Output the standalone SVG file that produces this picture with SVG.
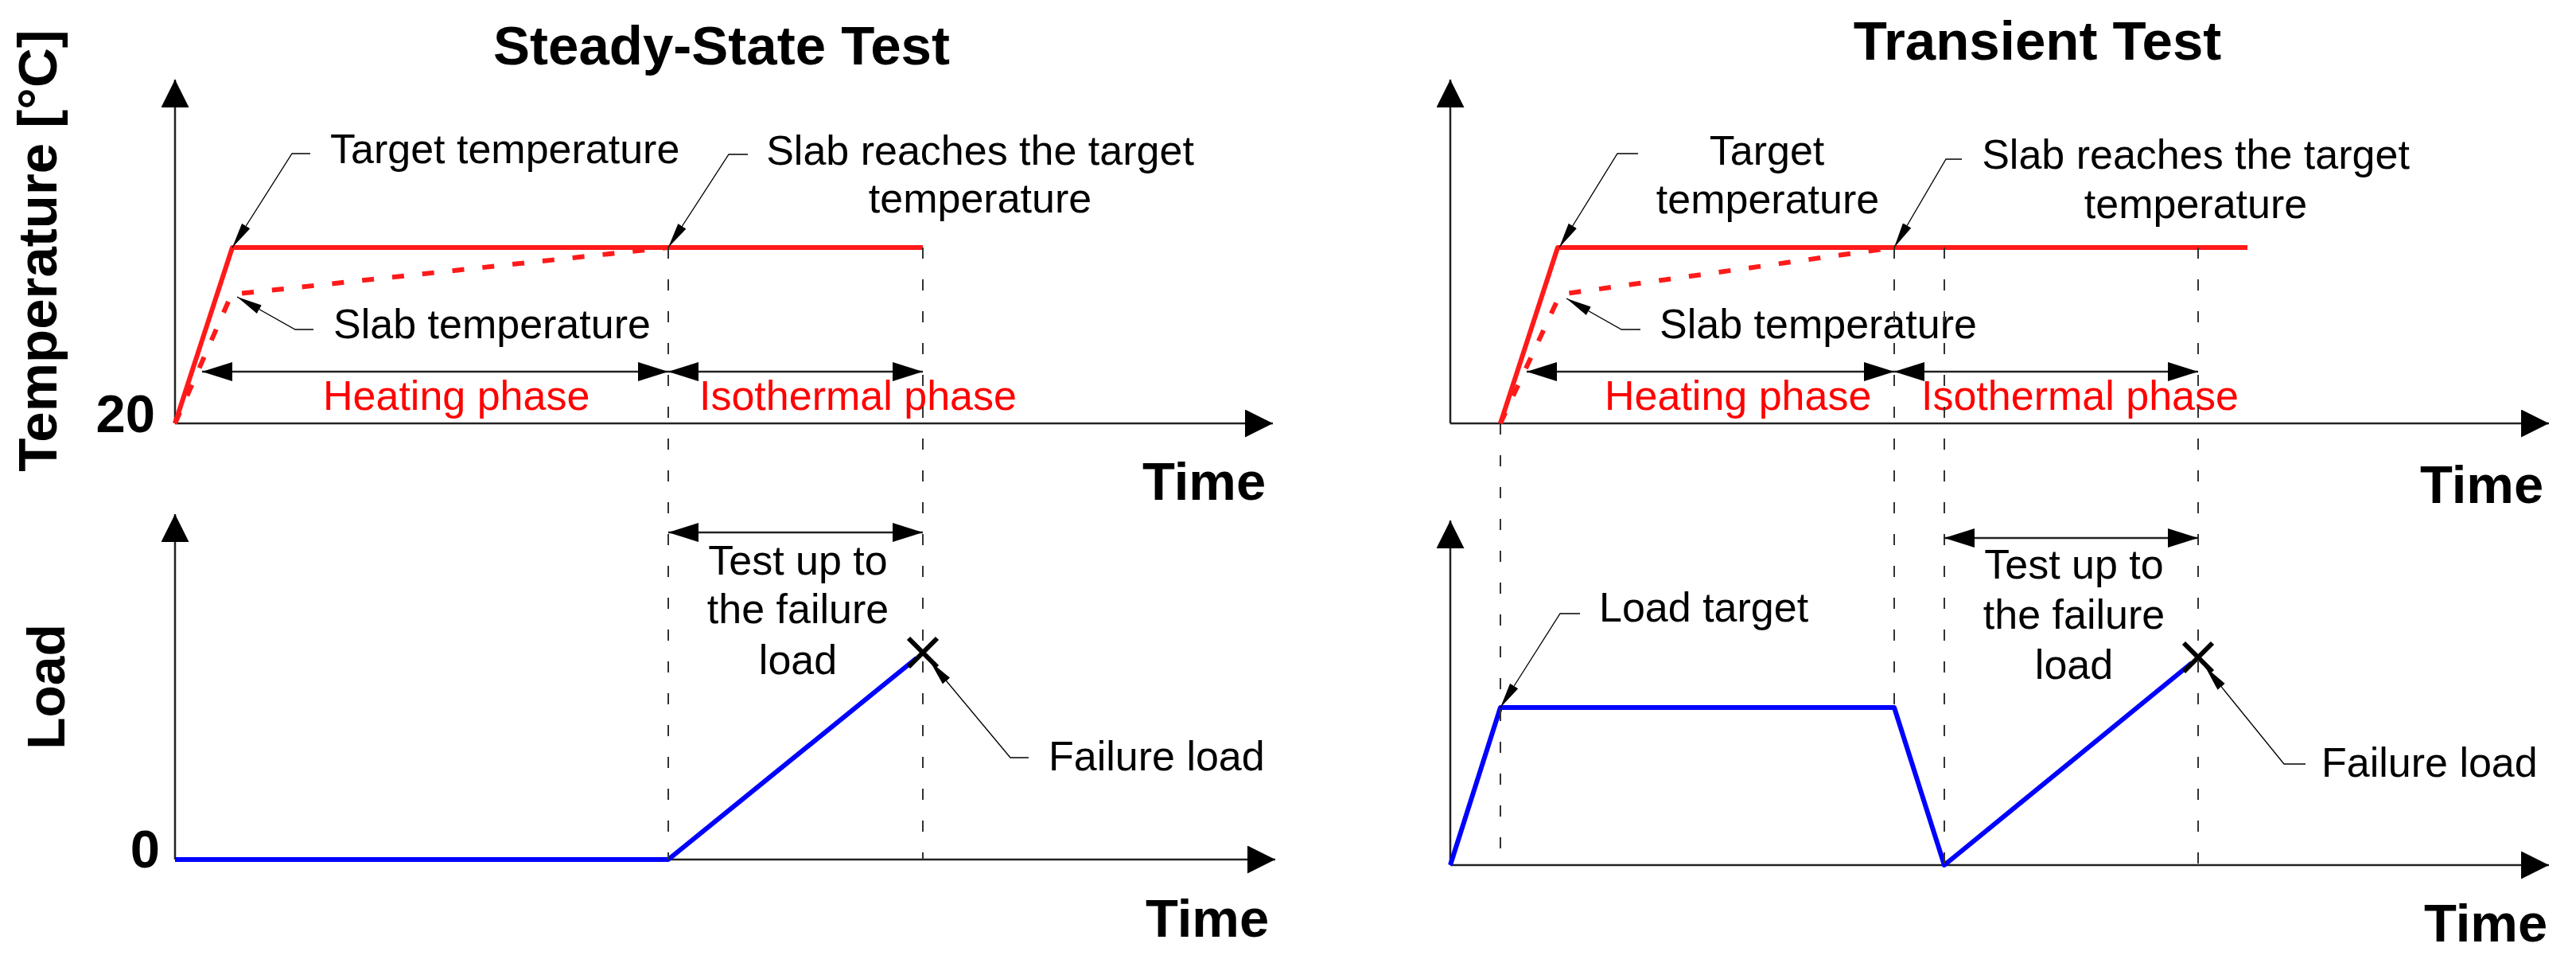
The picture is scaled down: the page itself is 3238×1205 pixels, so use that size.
<svg xmlns="http://www.w3.org/2000/svg" width="3238" height="1205" viewBox="0 0 3238 1205">
<defs>
<style>
text{font-family:"Liberation Sans",Arial,sans-serif;fill:#000}
.t{font-size:69px;font-weight:bold}
.ax{font-size:67px;font-weight:bold}
.lb{font-size:52px}
.rd{fill:#ff0000}
.m{text-anchor:middle}
.e{text-anchor:end}
.axis{stroke:#222;stroke-width:2.5;fill:none;marker-end:url(#ah)}
.dash{stroke:#333;stroke-width:2;stroke-dasharray:14 26;fill:none}
.dim{stroke:#222;stroke-width:2.5;fill:none;marker-start:url(#dh);marker-end:url(#dh)}
.lead{stroke:#000;stroke-width:1.3;fill:none;marker-end:url(#lh)}
.red{stroke:#ff1a1a;stroke-width:6;fill:none;stroke-linejoin:round}
.slab{stroke:#ff1a1a;stroke-width:6;fill:none;stroke-dasharray:15 23}
.blue{stroke:#0000ff;stroke-width:6;fill:none;stroke-linejoin:round}
.x{stroke:#000;stroke-width:6;fill:none}
</style>
<marker id="ah" markerUnits="userSpaceOnUse" markerWidth="36" markerHeight="36" refX="35" refY="17.5" orient="auto" viewBox="0 0 36 36"><path d="M0,0 L35,17.5 L0,35 z" fill="#000"/></marker>
<marker id="dh" markerUnits="userSpaceOnUse" markerWidth="39" markerHeight="25" refX="38" refY="12" orient="auto-start-reverse" viewBox="0 0 39 25"><path d="M0,0 L38,12 L0,24 z" fill="#000"/></marker>
<marker id="lh" markerUnits="userSpaceOnUse" markerWidth="34" markerHeight="14" refX="32" refY="6" orient="auto" viewBox="0 0 34 14"><path d="M0,0 L32,6 L0,12 z" fill="#000"/></marker>
</defs>

<g id="left-panel">
<g id="left-titles">
<text class="t m" x="907" y="81">Steady-State Test</text>
<text class="ax m" transform="translate(71,315) rotate(-90)" style="font-size:69px">Temperature [°C]</text>
<text class="ax m" transform="translate(81,863) rotate(-90)" style="font-size:66px">Load</text>
<text class="ax e" x="195" y="543">20</text>
<text class="ax e" x="201" y="1090">0</text>
<text class="ax" x="1436" y="628">Time</text>
<text class="ax" x="1440" y="1177">Time</text>
</g>
<g id="left-axes">
<line class="axis" x1="220" y1="532" x2="220" y2="100"/>
<line class="axis" x1="220" y1="532" x2="1600" y2="532"/>
<line class="axis" x1="220" y1="1080" x2="220" y2="646"/>
<line class="axis" x1="220" y1="1080" x2="1603" y2="1080"/>
</g>
<g id="left-curves">
<polyline class="red" points="220,532 292,311 1160,311"/>
<polyline class="slab" points="220,532 291,370 840,311"/>
<polyline class="blue" points="220,1080 840,1080 1152,827"/>
<path class="x" d="M1142,802 L1178,838 M1178,802 L1142,838"/>
</g>
<g id="left-labels">
<text class="lb" x="415" y="205">Target temperature</text>
<text class="lb m" x="1232" y="207">Slab reaches the target</text>
<text class="lb m" x="1232" y="267">temperature</text>
<text class="lb" x="419" y="425">Slab temperature</text>
<text class="lb rd" x="406" y="515">Heating phase</text>
<text class="lb rd" x="879" y="515">Isothermal phase</text>
<text class="lb m" x="1003" y="722">Test up to</text>
<text class="lb m" x="1003" y="783">the failure</text>
<text class="lb m" x="1003" y="847">load</text>
<text class="lb" x="1318" y="968">Failure load</text>
</g>
</g>

<g id="right-panel">
<g id="right-titles">
<text class="t m" x="2561" y="75">Transient Test</text>
<text class="ax" x="3042" y="632">Time</text>
<text class="ax" x="3047" y="1183">Time</text>
</g>
<g id="right-axes">
<line class="axis" x1="1823" y1="532" x2="1823" y2="100"/>
<line class="axis" x1="1823" y1="532" x2="3204" y2="532"/>
<line class="axis" x1="1823" y1="1087" x2="1823" y2="654"/>
<line class="axis" x1="1823" y1="1087" x2="3204" y2="1087"/>
</g>
<g id="right-curves">
<polyline class="red" points="1886,532 1958,311 2825,311"/>
<polyline class="slab" points="1886,532 1961,370 2381,311"/>
<polyline class="blue" points="1823,1087 1886,889 2381,889 2444,1087 2755,833"/>
<path class="x" d="M2745,808 L2781,844 M2781,808 L2745,844"/>
</g>
<g id="right-labels">
<text class="lb m" x="2221" y="207">Target</text>
<text class="lb m" x="2222" y="268">temperature</text>
<text class="lb m" x="2760" y="212">Slab reaches the target</text>
<text class="lb m" x="2760" y="274">temperature</text>
<text class="lb" x="2086" y="425">Slab temperature</text>
<text class="lb rd" x="2017" y="515">Heating phase</text>
<text class="lb rd" x="2415" y="515">Isothermal phase</text>
<text class="lb" x="2010" y="781">Load target</text>
<text class="lb m" x="2607" y="727">Test up to</text>
<text class="lb m" x="2607" y="790">the failure</text>
<text class="lb m" x="2607" y="853">load</text>
<text class="lb" x="2918" y="976">Failure load</text>
</g>
</g>

<g id="connectors">
<line class="dash" x1="840" y1="311" x2="840" y2="1080"/>
<line class="dash" x1="1160" y1="311" x2="1160" y2="1080"/>
<line class="dash" x1="1886" y1="532" x2="1886" y2="1087"/>
<line class="dash" x1="2381" y1="311" x2="2381" y2="889"/>
<line class="dash" x1="2444" y1="311" x2="2444" y2="1087"/>
<line class="dash" x1="2763" y1="311" x2="2763" y2="1087"/>
<line class="dim" x1="254" y1="467" x2="840" y2="467"/>
<line class="dim" x1="840" y1="467" x2="1160" y2="467"/>
<line class="dim" x1="840" y1="669" x2="1160" y2="669"/>
<line class="dim" x1="1919" y1="467" x2="2381" y2="467"/>
<line class="dim" x1="2381" y1="467" x2="2763" y2="467"/>
<line class="dim" x1="2444" y1="676" x2="2763" y2="676"/>
<polyline class="lead" points="390,193 367,193 292,311"/>
<polyline class="lead" points="940,194 916,194 840,311"/>
<polyline class="lead" points="394,414 371,414 298,373"/>
<polyline class="lead" points="1293,952 1270,952 1169,831"/>
<polyline class="lead" points="2059,193 2033,193 1960,311"/>
<polyline class="lead" points="2466,200 2446,200 2381,311"/>
<polyline class="lead" points="2062,414 2038,414 1969,375"/>
<polyline class="lead" points="1986,771 1961,771 1886,889"/>
<polyline class="lead" points="2898,960 2871,960 2772,838"/>
</g>
</svg>
